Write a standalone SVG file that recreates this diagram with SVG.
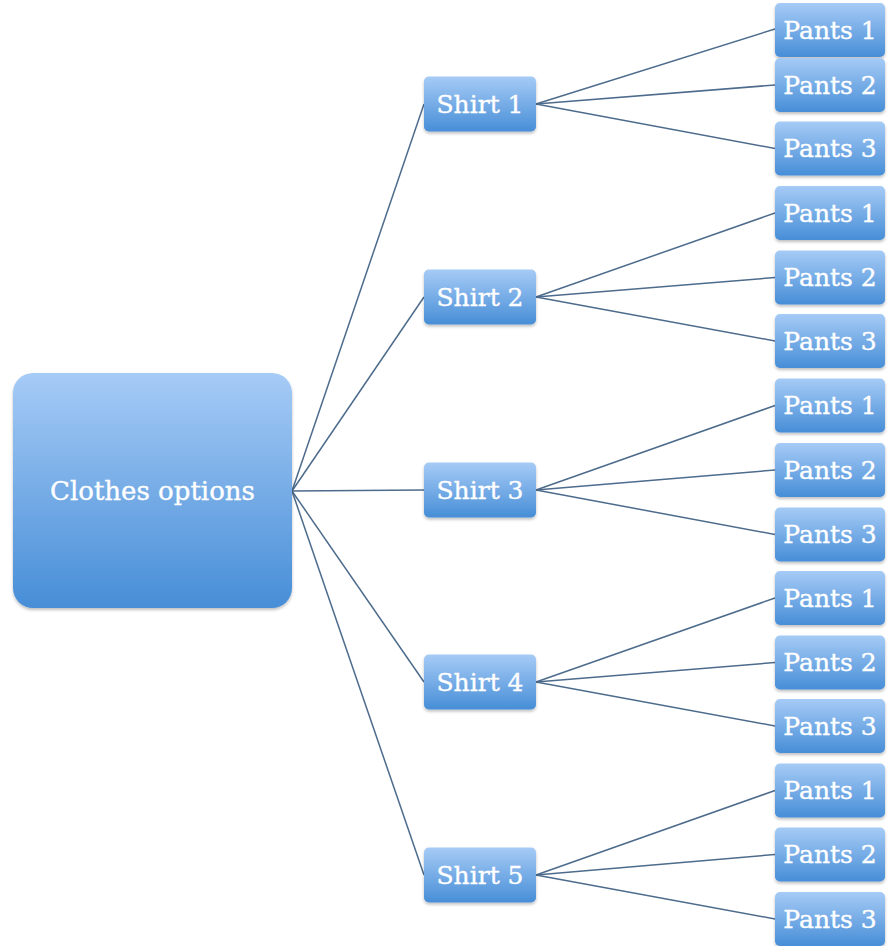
<svg xmlns="http://www.w3.org/2000/svg" width="893" height="946" viewBox="0 0 893 946">
<defs>
<linearGradient id="g" x1="0" y1="0" x2="0" y2="1">
<stop offset="0" stop-color="#a6cbf6"/>
<stop offset="1" stop-color="#478ed7"/>
</linearGradient>
<filter id="sh" x="-10%" y="-10%" width="120%" height="130%">
<feDropShadow dx="0" dy="2" stdDeviation="1.5" flood-color="#000" flood-opacity="0.25"/>
</filter>
</defs>
<style>
.box{fill:url(#g);filter:url(#sh)}
.t{fill:#fff;stroke:#fff;stroke-width:0.35;font-family:"DejaVu Serif","Liberation Serif",serif;font-size:25px;text-anchor:middle;dominant-baseline:central}
.big{font-size:26px}
.c line{stroke:#4d6b8c;stroke-width:1.5}
</style>
<rect width="893" height="946" fill="#fff"/>
<g class="c" id="connectors">
<line x1="292" y1="491" x2="424" y2="104"/>
<line x1="292" y1="491" x2="424" y2="297"/>
<line x1="292" y1="491" x2="424" y2="490"/>
<line x1="292" y1="491" x2="424" y2="682"/>
<line x1="292" y1="491" x2="424" y2="875"/>
<line x1="536" y1="104" x2="775" y2="29"/>
<line x1="536" y1="104" x2="775" y2="85"/>
<line x1="536" y1="104" x2="775" y2="148.5"/>
<line x1="536" y1="297" x2="775" y2="213"/>
<line x1="536" y1="297" x2="775" y2="277.5"/>
<line x1="536" y1="297" x2="775" y2="341"/>
<line x1="536" y1="490" x2="775" y2="405.5"/>
<line x1="536" y1="490" x2="775" y2="470"/>
<line x1="536" y1="490" x2="775" y2="534.5"/>
<line x1="536" y1="682" x2="775" y2="598"/>
<line x1="536" y1="682" x2="775" y2="662.5"/>
<line x1="536" y1="682" x2="775" y2="726"/>
<line x1="536" y1="875" x2="775" y2="790.5"/>
<line x1="536" y1="875" x2="775" y2="854.5"/>
<line x1="536" y1="875" x2="775" y2="919"/>
</g>
<g id="root"><rect class="box" x="13" y="373" width="279" height="235" rx="20"/><text class="t big" x="152.5" y="491">Clothes options</text></g>
<g id="shirt1"><rect class="box" x="424" y="76.5" width="112" height="55" rx="5"/><text class="t" x="480" y="104">Shirt 1</text></g>
<g id="shirt2"><rect class="box" x="424" y="269.5" width="112" height="55" rx="5"/><text class="t" x="480" y="297">Shirt 2</text></g>
<g id="shirt3"><rect class="box" x="424" y="462.5" width="112" height="55" rx="5"/><text class="t" x="480" y="490">Shirt 3</text></g>
<g id="shirt4"><rect class="box" x="424" y="654.5" width="112" height="55" rx="5"/><text class="t" x="480" y="682">Shirt 4</text></g>
<g id="shirt5"><rect class="box" x="424" y="847.5" width="112" height="55" rx="5"/><text class="t" x="480" y="875">Shirt 5</text></g>
<g id="s1p1"><rect class="box" x="775" y="3" width="110" height="54" rx="5"/><text class="t" x="830" y="30">Pants 1</text></g>
<g id="s1p2"><rect class="box" x="775" y="58" width="110" height="54" rx="5"/><text class="t" x="830" y="85">Pants 2</text></g>
<g id="s1p3"><rect class="box" x="775" y="121.5" width="110" height="54" rx="5"/><text class="t" x="830" y="148.5">Pants 3</text></g>
<g id="s2p1"><rect class="box" x="775" y="186" width="110" height="54" rx="5"/><text class="t" x="830" y="213">Pants 1</text></g>
<g id="s2p2"><rect class="box" x="775" y="250.5" width="110" height="54" rx="5"/><text class="t" x="830" y="277.5">Pants 2</text></g>
<g id="s2p3"><rect class="box" x="775" y="314" width="110" height="54" rx="5"/><text class="t" x="830" y="341">Pants 3</text></g>
<g id="s3p1"><rect class="box" x="775" y="378.5" width="110" height="54" rx="5"/><text class="t" x="830" y="405.5">Pants 1</text></g>
<g id="s3p2"><rect class="box" x="775" y="443" width="110" height="54" rx="5"/><text class="t" x="830" y="470">Pants 2</text></g>
<g id="s3p3"><rect class="box" x="775" y="507.5" width="110" height="54" rx="5"/><text class="t" x="830" y="534.5">Pants 3</text></g>
<g id="s4p1"><rect class="box" x="775" y="571" width="110" height="54" rx="5"/><text class="t" x="830" y="598">Pants 1</text></g>
<g id="s4p2"><rect class="box" x="775" y="635.5" width="110" height="54" rx="5"/><text class="t" x="830" y="662.5">Pants 2</text></g>
<g id="s4p3"><rect class="box" x="775" y="699" width="110" height="54" rx="5"/><text class="t" x="830" y="726">Pants 3</text></g>
<g id="s5p1"><rect class="box" x="775" y="763.5" width="110" height="54" rx="5"/><text class="t" x="830" y="790.5">Pants 1</text></g>
<g id="s5p2"><rect class="box" x="775" y="827.5" width="110" height="54" rx="5"/><text class="t" x="830" y="854.5">Pants 2</text></g>
<g id="s5p3"><rect class="box" x="775" y="892" width="110" height="54" rx="5"/><text class="t" x="830" y="919">Pants 3</text></g>
</svg>
